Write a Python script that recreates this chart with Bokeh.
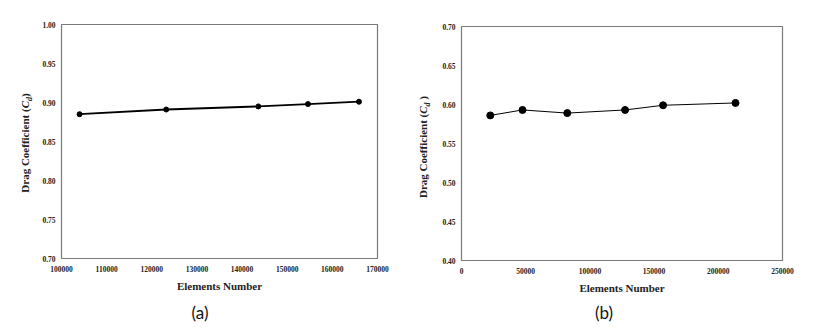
from bokeh.plotting import figure
from bokeh.layouts import row, column
from bokeh.models import Range1d, FixedTicker, NumeralTickFormatter, Div
from bokeh.embed import file_html
from bokeh.resources import INLINE

# ---- data ----
a_elements = [104000, 123200, 143600, 154600, 165900]
a_cd = [0.885, 0.891, 0.895, 0.898, 0.901]
a_xticks = [100000, 110000, 120000, 130000, 140000, 150000, 160000, 170000]
a_yticks = [0.70, 0.75, 0.80, 0.85, 0.90, 0.95, 1.00]

b_elements = [22400, 47500, 82400, 127400, 157000, 213400]
b_cd = [0.586, 0.593, 0.589, 0.593, 0.599, 0.602]
b_xticks = [0, 50000, 100000, 150000, 200000, 250000]
b_yticks = [0.40, 0.45, 0.50, 0.55, 0.60, 0.65, 0.70]

x_title = "Elements Number"
y_title_main = "Drag Coefficient ("
y_title_sym = "C"
y_title_sub = "d"
caption_a = "(a)"
caption_b = "(b)"

SERIF = "Liberation Serif"
FIG_H = 298


def make_panel(xs, ys, xticks, yticks, border_left, frame_w, border_right,
               border_top, line_w, marker_size):
    p = figure(width=border_left + frame_w + border_right, height=FIG_H,
               frame_width=frame_w, frame_height=234,
               min_border_left=border_left, min_border_right=border_right,
               min_border_top=border_top, min_border_bottom=FIG_H - 234 - border_top,
               x_range=Range1d(xticks[0], xticks[-1]), y_range=Range1d(yticks[0], yticks[-1]),
               output_backend="svg", toolbar_location=None)
    p.background_fill_color = "white"
    p.border_fill_color = "white"
    p.outline_line_color = "#7a7a7a"
    p.outline_line_width = 1.2
    p.xgrid.visible = False
    p.ygrid.visible = False
    for ax in (p.xaxis[0], p.yaxis[0]):
        ax.axis_line_color = None
        ax.major_tick_out = 0
        ax.major_tick_in = 0
        ax.minor_tick_out = 0
        ax.minor_tick_in = 0
        ax.major_label_text_font = SERIF
        ax.major_label_text_font_style = "bold"
        ax.major_label_text_font_size = "7.5px"
        ax.major_label_text_color = "#222222"
    p.xaxis.ticker = FixedTicker(ticks=xticks)
    p.yaxis.ticker = FixedTicker(ticks=yticks)
    p.xaxis.formatter = NumeralTickFormatter(format="0")
    p.yaxis.formatter = NumeralTickFormatter(format="0.00")
    p.xaxis.major_label_standoff = 7
    p.yaxis.major_label_standoff = 6
    p.xaxis.axis_label = x_title
    p.xaxis.axis_label_text_font = SERIF
    p.xaxis.axis_label_text_font_style = "bold"
    p.xaxis.axis_label_text_font_size = "11px"
    p.xaxis.axis_label_text_color = "#222222"
    p.xaxis.axis_label_standoff = 5

    p.line(xs, ys, line_color="black", line_width=line_w)
    p.scatter(xs, ys, size=marker_size, fill_color="black", line_color="black")
    return p


def ylabel_div(width, cx, cy, close_txt):
    html = (
        f'<div style="position:relative;width:{width}px;height:{FIG_H}px;">'
        f'<div style="position:absolute;left:{cx}px;top:{cy}px;'
        'transform:translate(-50%,-50%) rotate(-90deg);white-space:nowrap;'
        f"font-family:'{SERIF}';font-weight:bold;font-size:11px;color:#222;line-height:13px;\">"
        f'{y_title_main}<i>{y_title_sym}<sub style="font-size:8px;line-height:0;">'
        f'{y_title_sub}</sub></i>{close_txt}</div></div>'
    )
    return Div(text=html, width=width, height=FIG_H, margin=0)


def caption_div(width, cx, text):
    html = (
        f'<div style="width:{2 * cx}px;text-align:center;font-family:Lato;'
        f'font-size:17px;line-height:30px;color:#111;">{text}</div>'
    )
    return Div(text=html, width=width, height=336 - FIG_H, margin=0)


p1 = make_panel(a_elements, a_cd, a_xticks, a_yticks, 25, 316, 34, 24, 1.8, 5)
p2 = make_panel(b_elements, b_cd, b_xticks, b_yticks, 22, 321, 40, 26, 1.0, 7)

left = column(row(ylabel_div(36, 25, 143, ")"), p1), caption_div(411, 200, caption_a))
right = column(row(ylabel_div(28, 12, 147, " )"), p2), caption_div(411, 193, caption_b))

layout = row(left, right)
open("out.html", "w").write(file_html(layout, INLINE))
